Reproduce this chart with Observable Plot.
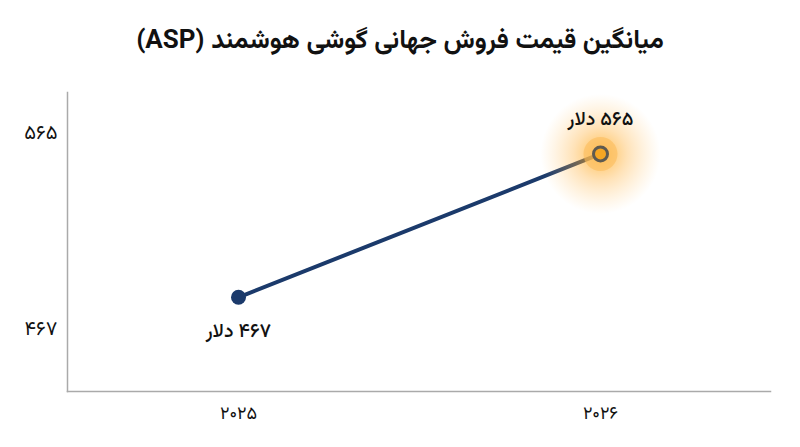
<!DOCTYPE html>
<html>
<head>
<meta charset="utf-8">
<script src="https://cdn.jsdelivr.net/npm/d3@7"></script>
<script src="https://cdn.jsdelivr.net/npm/@observablehq/plot@0.6"></script>
<style>
  body { margin: 0; background: #fff; font-family: "Vazirmatn", "Noto Sans Arabic", "DejaVu Sans", sans-serif; }
  #title { height: 72px; box-sizing: border-box; padding-top: 26px; text-align: center; font-size: 26px; line-height: 32px; font-weight: bold; color: #111; }
  #chart svg { display: block; }
</style>
</head>
<body>
<div id="title" dir="rtl"></div>
<div id="chart"></div>
<script>
// ---- data ----
const titleText = "میانگین قیمت فروش جهانی گوشی هوشمند (ASP)";
const years = [2025, 2026];
const prices = [467, 565];
const yTickValues = [467, 565];
const unit = "دلار";

document.getElementById("title").textContent = titleText;

const rows = years.map((year, i) => ({ year, price: prices[i] }));
const toFa = n => String(n).replace(/\d/g, d => "۰۱۲۳۴۵۶۷۸۹"[d]);
const fontFamily = "Vazirmatn, 'Noto Sans Arabic', 'DejaVu Sans', sans-serif";

// tick labels are spread a little wider than the data points in the reference
const labelPos = d3.scaleLinear().domain([467, 565]).range([445.6, 579.8]);

const navy = "#1b3a6b";

const chart = Plot.plot({
  width: 800,
  height: 375,
  marginTop: 20,
  marginBottom: 56,
  marginLeft: 67,
  marginRight: 30,
  style: { fontFamily, background: "transparent", overflow: "visible" },
  x: { type: "point", domain: years, padding: 0.47, axis: null },
  y: { domain: [402.6, 607], axis: null },
  marks: [
    Plot.frame({ anchor: "left", stroke: "#aaaaaa", strokeWidth: 1.5 }),
    Plot.frame({ anchor: "bottom", stroke: "#aaaaaa", strokeWidth: 1.5 }),
    Plot.axisX({ tickSize: 0, tickPadding: 15, tickFormat: toFa, fontSize: 18, fill: "#111", label: null }),
    Plot.text(yTickValues, { y: d => labelPos(d), text: d => toFa(d), frameAnchor: "left", textAnchor: "end", dx: -10, fontSize: 20, fill: "#111" }),
    Plot.line(rows, { x: "year", y: "price", stroke: navy, strokeWidth: 4 }),
    Plot.dot([rows[0]], { x: "year", y: "price", r: 7.5, fill: navy }),
    Plot.dot([rows[1]], { x: "year", y: "price", r: 60, fill: "url(#glow)" }),
    Plot.dot([rows[1]], { x: "year", y: "price", r: 17, fill: "#fbbd5c", fillOpacity: 0.6 }),
    Plot.dot([rows[1]], { x: "year", y: "price", r: 7, fill: "#f5a623", stroke: "#5e5a50", strokeWidth: 3 }),
    Plot.text([rows[0]], { x: "year", y: "price", text: d => "\u200F" + toFa(d.price) + " " + unit, dy: 33, fontSize: 19.5, fontWeight: 500, fill: "#111" }),
    Plot.text([rows[1]], { x: "year", y: "price", text: d => "\u200F" + toFa(d.price) + " " + unit, dy: -35, fontSize: 19.5, fontWeight: 500, fill: "#111" })
  ]
});

const defs = d3.select(chart).insert("defs", ":first-child");
const grad = defs.append("radialGradient").attr("id", "glow");
grad.append("stop").attr("offset", "0%").attr("stop-color", "#ffa200").attr("stop-opacity", 0.7);
grad.append("stop").attr("offset", "45%").attr("stop-color", "#ffad33").attr("stop-opacity", 0.35);
grad.append("stop").attr("offset", "100%").attr("stop-color", "#ffc266").attr("stop-opacity", 0);

document.getElementById("chart").appendChild(chart);
</script>
</body>
</html>
